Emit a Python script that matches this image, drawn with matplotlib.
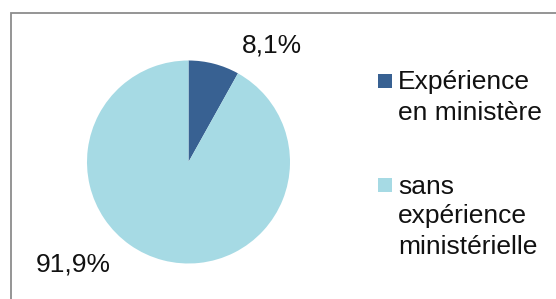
import matplotlib.pyplot as plt
import matplotlib.patches as mpatches

plt.rcParams['font.family'] = ['Liberation Sans', 'DejaVu Sans']

# share of people with / without ministerial experience
categories = ["Expérience\nen ministère", "sans\nexpérience\nministérielle"]
values = [8.1, 91.9]
colors = ["#386192", "#A6DAE4"]

W, H = 556, 299
fig = plt.figure(figsize=(W / 100, H / 100), dpi=100)
px = lambda x, y: (x / W, 1 - y / H)   # pixel (from top-left) -> figure coords

# chart border (Excel style, runs off right and bottom)
fig.patches.append(mpatches.Rectangle((11 / W, -0.1), 1.2, (H - 12.7) / H + 0.1,
                                      transform=fig.transFigure, fill=False,
                                      edgecolor="#8C8C8C", linewidth=1.3))

# pie axes: centre at (188.5, 162) px, radius 101.5 px
cx, cy, r = 188.5, H - 162, 101.5
ax = fig.add_axes([(cx - r) / W, (cy - r) / H, 2 * r / W, 2 * r / H])
wedges, _ = ax.pie(values, colors=colors, startangle=90, counterclock=False,
                   radius=1, wedgeprops=dict(linewidth=0))
ax.set_xlim(-1, 1)
ax.set_ylim(-1, 1)
ax.set_aspect("auto")
ax.axis("off")

# data labels
label_pos = [(0.82, 1.15), (-1.14, -1.01)]
for v, (x, y) in zip(values, label_pos):
    ax.text(x, y, f"{v:.1f}%".replace(".", ","), ha="center", va="center",
            fontsize=19, color="#111111", clip_on=False)

# legend, drawn by hand so the key sits on the first line of each entry
first_baseline = [89.5, 193.5]
step = 30
for cat, col, b0 in zip(categories, colors, first_baseline):
    fig.patches.append(mpatches.Rectangle(px(378, b0 - 2), 13.5 / W, 13.5 / H,
                                          transform=fig.transFigure,
                                          facecolor=col, edgecolor="none"))
    for i, line in enumerate(cat.split("\n")):
        fig.text(*px(398, b0 + i * step), line, ha="left", va="baseline",
                 fontsize=19, color="#111111")

fig.savefig("out.png", dpi=100)
